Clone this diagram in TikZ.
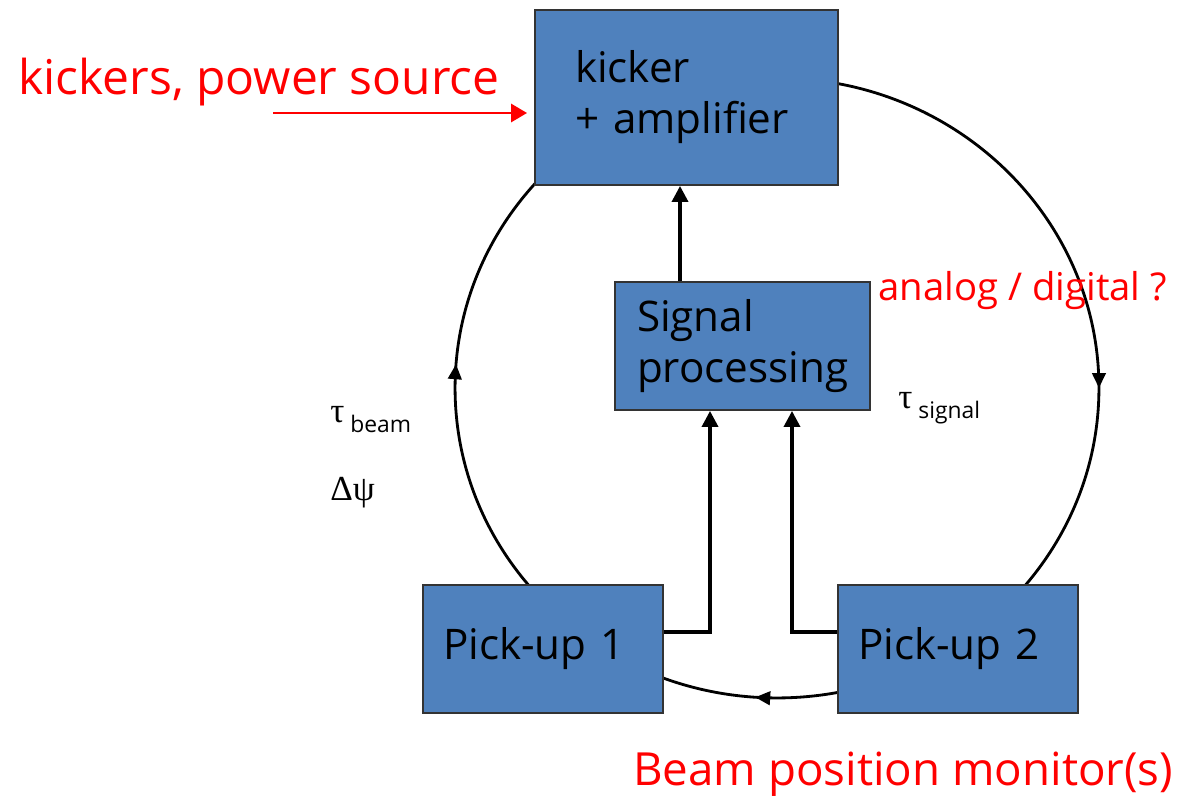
\documentclass[tikz,border=0pt]{standalone}
\usepackage{fontspec}
\setmainfont{Open Sans}
\newfontfamily\greekfont{Liberation Serif}
\usetikzlibrary{arrows.meta,positioning,backgrounds,decorations.markings}
\definecolor{boxblue}{RGB}{79,129,189}
\definecolor{notered}{RGB}{255,0,0}
\hyphenpenalty=10000
\newcommand{\boxfont}{\fontsize{24}{29}\selectfont}
\newcommand{\greekfnt}{\greekfont\fontsize{20}{24}\selectfont}

\begin{document}
\begin{tikzpicture}[x=0.02cm,y=0.02cm,
  block/.style={draw=black!80,line width=1.1pt,fill=boxblue,align=left,
    inner ysep=0pt,font=\boxfont},
  flow/.style={line width=2pt,-{Triangle[length=0.32cm,width=0.32cm]}},
  note/.style={text=notered,anchor=base west,inner sep=0pt},
  sym/.style={anchor=base west,inner sep=0pt,font=\fontsize{13}{15}\selectfont},
  ring/.style={line width=1.6pt,postaction={decorate},
    decoration={markings,
      mark=at position 0.25 with {\arrow{Triangle[length=0.3cm,width=0.27cm]}},
      mark=at position 0.511 with {\arrow{Triangle[length=0.3cm,width=0.27cm]}},
      mark=at position 0.762 with {\arrow{Triangle[length=0.3cm,width=0.27cm]}}}}]
  \useasboundingbox (0,0) rectangle (1186,799);
  % blocks
  \node[block,text width=4.46cm,inner xsep=0.8cm,minimum height=3.5cm] (kick) at (686.5,701.5)
    {kicker\\+ amplifier};
  \node[block,text width=4.22cm,inner xsep=0.44cm,minimum height=2.56cm] (sig) at (742.5,453)
    {Signal\\processing};
  \node[block,text width=4cm,inner xsep=0.4cm,minimum height=2.56cm] (pu1) at (543,150)
    {Pick-up 1};
  \node[block,text width=4cm,inner xsep=0.4cm,minimum height=2.56cm] (pu2) at (958,150)
    {Pick-up 2};
  % ring
  \begin{scope}[on background layer]
    \draw[ring] (777,411) ++(0,6.2cm) arc[start angle=90,end angle=-270,x radius=6.44cm,y radius=6.2cm];
  \end{scope}
  % signal path
  \draw[flow] ([xshift=-1.25cm]sig.north) -- ([xshift=-1.25cm]sig.north |- kick.south);
  \draw[flow] ([yshift=0.34cm]pu1.east) -| ([xshift=-0.65cm]sig.south);
  \draw[flow] ([yshift=0.34cm]pu2.west) -| ([xshift=0.99cm]sig.south);
  % notes
  \node[note,font=\fontsize{27.3}{32}\selectfont] (srclbl) at (18,704) {kickers, power source};
  \coordinate (srcpt) at (273,686);
  \draw[notered,line width=1.7pt,-{Triangle[length=0.32cm,width=0.36cm]},shorten >=0.14cm]
    (srcpt) -- (srcpt -| kick.west);
  \node[note,font=\fontsize{21.8}{26}\selectfont] (adlbl) at (878,499) {analog / digital ?};
  \node[note,font=\fontsize{26}{31}\selectfont] (bpmlbl) at (633,14) {Beam position monitor(s)};
  \node[sym] (taubeam) at (330,377) {{\greekfnt τ}\ \raisebox{-6pt}{beam}};
  \node[sym] (dpsi) at (330,299) {\greekfnt Δψ};
  \node[sym] (tausig) at (898,391) {{\greekfnt τ}\ \raisebox{-6pt}{signal}};
\end{tikzpicture}
\end{document}
